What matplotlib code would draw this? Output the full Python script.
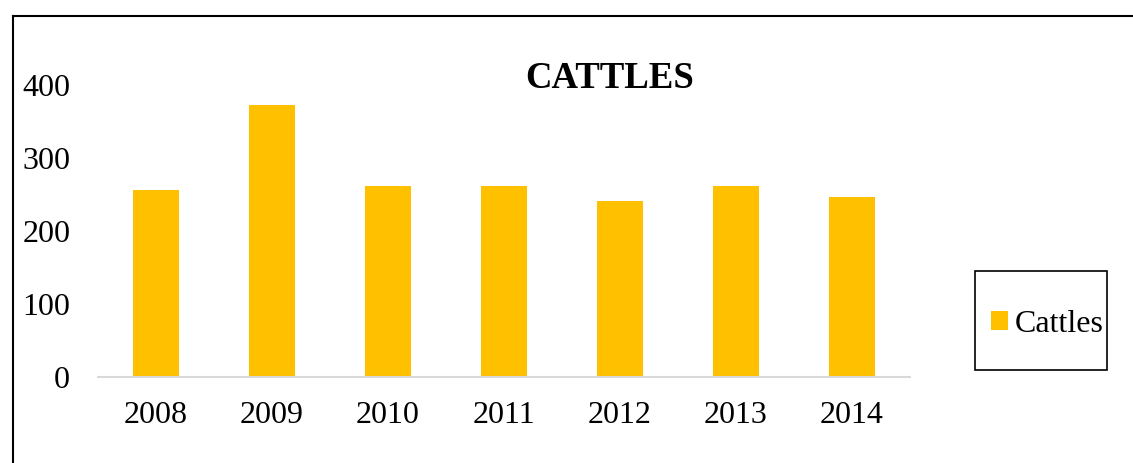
import matplotlib
matplotlib.use("Agg")
import matplotlib.pyplot as plt
from matplotlib.lines import Line2D
from matplotlib.patches import Rectangle

# datos
years = ["2008", "2009", "2010", "2011", "2012", "2013", "2014"]
cattles = [255, 370, 260, 260, 240, 260, 245]
y_ticks = [0, 100, 200, 300, 400]

plt.rcParams['font.family'] = ['Liberation Serif', 'DejaVu Serif']

W, H = 1133, 464
fig = plt.figure(figsize=(W / 100, H / 100), dpi=100)
ax = fig.add_axes([98 / W, 1 - 377.5 / H, (910 - 98) / W, (377.5 - 84.5) / H])

x = range(len(years))
ax.bar(x, cattles, width=0.4, color='#FFC000', label='Cattles', zorder=2)

ax.set_xlim(-0.5, len(years) - 0.5)
ax.set_ylim(0, 400)
ax.set_xticks(list(x))
ax.set_xticklabels(years)
ax.set_yticks(y_ticks)
ax.tick_params(axis='both', length=0, labelsize=23)
ax.tick_params(axis='y', pad=20)
ax.tick_params(axis='x', pad=17)

for s in ['top', 'right', 'left']:
    ax.spines[s].set_visible(False)
ax.spines['bottom'].set_color('#D9D9D9')
ax.spines['bottom'].set_linewidth(1.5)

# titulo
fig.text(609.5 / W, 1 - 79 / H, 'CATTLES', ha='center', va='center',
         fontsize=26.5, fontweight='bold')

# leyenda con marco propio
leg = ax.legend(loc='center left', bbox_to_anchor=(991 / W, 1 - 325 / H),
                bbox_transform=fig.transFigure, frameon=False, fontsize=23,
                handlelength=0.52, handleheight=0.55, handletextpad=0.22,
                borderpad=0, borderaxespad=0)
fig.add_artist(Rectangle((975 / W, 1 - 371 / H), 132 / W, 99 / H,
                         transform=fig.transFigure, fill=False,
                         edgecolor='black', linewidth=1.2))

# borde exterior
fig.add_artist(Line2D([13 / W, 13 / W], [0, 1 - 17 / H],
                      transform=fig.transFigure, color='black', linewidth=1.5))
fig.add_artist(Line2D([13 / W, 1], [1 - 17 / H, 1 - 17 / H],
                      transform=fig.transFigure, color='black', linewidth=1.5))

fig.savefig('out.png', dpi=100)
